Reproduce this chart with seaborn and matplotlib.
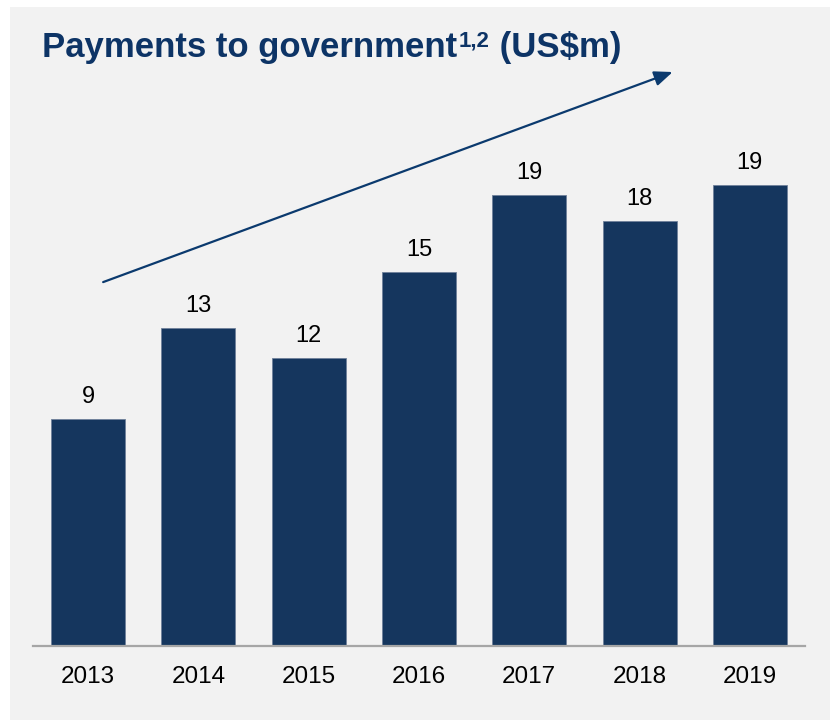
import matplotlib
matplotlib.use("Agg")
import matplotlib.pyplot as plt
from matplotlib.patches import Rectangle
import pandas as pd
import seaborn as sns

years = ["2013", "2014", "2015", "2016", "2017", "2018", "2019"]
payments = [9.36, 13.1, 11.87, 15.4, 18.6, 17.5, 19.0]
value_labels = ["9", "13", "12", "15", "19", "18", "19"]

navy = "#15365e"
title_blue = "#0d3466"

sns.set_style("white")
plt.rcParams["font.family"] = ["Liberation Sans", "DejaVu Sans"]

df = pd.DataFrame({"year": years, "payments": payments})

fig = plt.figure(figsize=(8.3, 7.2), dpi=100)
fig.patch.set_facecolor("white")
fig.patches.append(Rectangle((10 / 830, 0), 1 - 10 / 830, 713 / 720,
                             transform=fig.transFigure, facecolor="#f2f2f2",
                             edgecolor="none", zorder=-5))

ax = fig.add_axes([33 / 830, 74 / 720, 772 / 830, 606.5 / 720])
ax.set_zorder(2)
ax.set_facecolor("none")
sns.barplot(data=df, x="year", y="payments", color=navy, width=0.67,
            saturation=1, edgecolor="#6f819a", linewidth=0.6, ax=ax)

ax.set_xlim(-0.5, 6.5)
ax.set_ylim(0, 25)
ax.set_xlabel("")
ax.set_ylabel("")
ax.set_yticks([])
for side in ["top", "right", "left"]:
    ax.spines[side].set_visible(False)
ax.spines["bottom"].set_color("#a6a6a6")
ax.spines["bottom"].set_linewidth(1.6)
ax.tick_params(axis="x", length=0, pad=14.5, labelsize=17.5, labelcolor="black")

for i, (v, lab) in enumerate(zip(payments, value_labels)):
    ax.annotate(lab, (i, v), xytext=(0, 11.5), textcoords="offset points",
                ha="center", va="baseline", fontsize=17, color="black")

# trend arrow
ax.annotate("", xy=(5.30, 23.66), xytext=(0.136, 15.0),
            arrowprops=dict(arrowstyle="-|>,head_length=1.1,head_width=0.45",
                            color="#0b3a6e", lw=1.6, shrinkA=0, shrinkB=0),
            annotation_clip=False)

# title with superscript
t1 = fig.text(42 / 830, 1 - 57 / 720, "Payments to government", fontsize=25,
              fontweight="bold", color=title_blue, va="baseline", ha="left")
fig.canvas.draw()
r = fig.canvas.get_renderer()
bb = t1.get_window_extent(r)
x_sup = bb.x1 / fig.bbox.width + 2 / 830
t2 = fig.text(x_sup, 1 - 46 / 720, "1,2", fontsize=16, fontweight="bold",
              color=title_blue, va="baseline", ha="left")
fig.canvas.draw()
bb2 = t2.get_window_extent(r)
fig.text(bb2.x1 / fig.bbox.width, 1 - 57 / 720, " (US$m)", fontsize=25,
         fontweight="bold", color=title_blue, va="baseline", ha="left")

fig.savefig("out.png", dpi=100, facecolor="white")
